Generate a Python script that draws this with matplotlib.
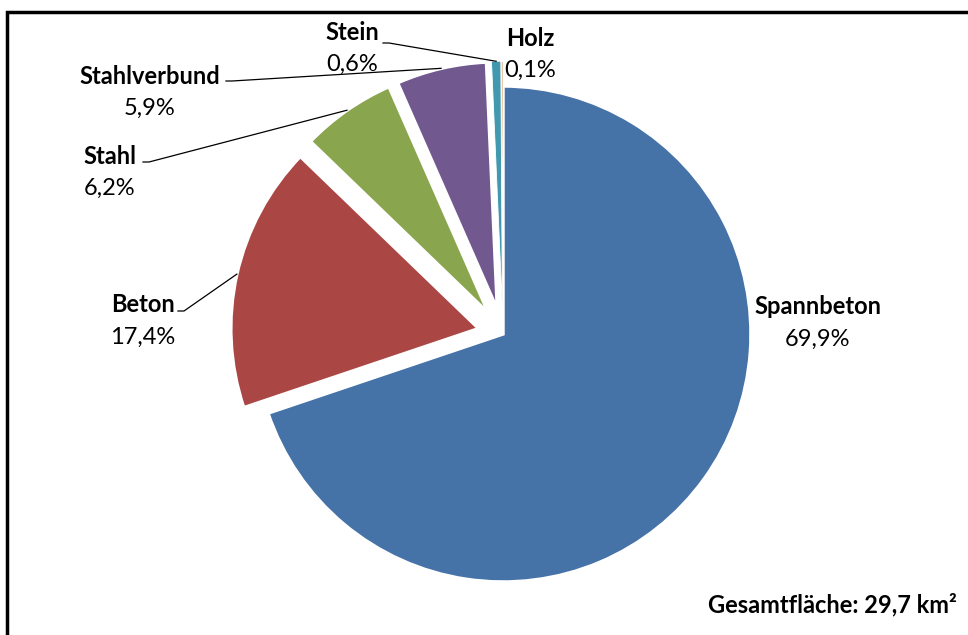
import numpy as np
import matplotlib.pyplot as plt
from matplotlib.patches import Rectangle

# data
materials = ['Spannbeton', 'Beton', 'Stahl', 'Stahlverbund', 'Stein', 'Holz']
shares = [69.9, 17.4, 6.2, 5.9, 0.6, 0.1]
colors = ['#4572A7', '#AA4643', '#89A54E', '#71588F', '#4198AF', '#DB843D']
explode = [0, 0.1, 0.1, 0.1, 0.1, 0.1]
total_text = 'Gesamtfläche: 29,7 km²'

# label positions in pixel coords (x, y from top), leader line start or None
label_pos = {
    'Spannbeton': ((818, 307), None),
    'Beton': ((143, 305), (178, 311)),
    'Stahl': ((110, 156), (143, 162)),
    'Stahlverbund': ((150, 76), (226, 81)),
    'Stein': ((352, 32), (383, 43)),
    'Holz': ((530, 38), None),
}

W, H = 968, 635
plt.rcParams['font.family'] = ['Lato', 'DejaVu Sans']

fig = plt.figure(figsize=(W / 100, H / 100), dpi=100)
ax = fig.add_axes([0, 0, 1, 1])

cx, cy, r = 503, H - 334, 248
# matplotlib explode is an absolute offset, so scale by radius
wedges, _ = ax.pie(shares, colors=colors, explode=[e * r for e in explode],
                   startangle=90, counterclock=False, center=(cx, cy), radius=r,
                   wedgeprops=dict(edgecolor='white', linewidth=2.5),
                   normalize=True, frame=True)
ax.set_xlim(0, W)
ax.set_ylim(0, H)
ax.set_aspect('equal')
ax.axis('off')

# thin slices would vanish under the white edge
for w, val in zip(wedges, shares):
    if val < 1:
        w.set_linewidth(0.6)

def fmt(v):
    return f'{v:.1f}'.replace('.', ',') + '%'

fs = 17
for w, name, val in zip(wedges, materials, shares):
    (lx, ly), lead = label_pos[name]
    ax.text(lx, H - ly, name, ha='center', va='center', fontsize=fs,
            fontweight='bold', color='black')
    ax.text(lx, H - ly - 32, fmt(val), ha='center', va='center', fontsize=fs,
            color='black')
    if lead is not None:
        mid = np.deg2rad((w.theta1 + w.theta2) / 2)
        wx, wy = w.center
        ex = wx + w.r * np.cos(mid)
        ey = wy + w.r * np.sin(mid)
        ax.plot([lead[0], lead[0] + 6, ex], [H - lead[1]] * 2 + [ey],
                color='black', lw=0.9)

ax.text(957, H - 605, total_text, ha='right', va='center', fontsize=fs,
        fontweight='bold')

# chart border (only left and top visible in the crop)
ax.add_patch(Rectangle((7, -10), W + 10, H - 2, fill=False, edgecolor='black',
                       lw=2.5, clip_on=False))

fig.savefig('out.png', dpi=100)
